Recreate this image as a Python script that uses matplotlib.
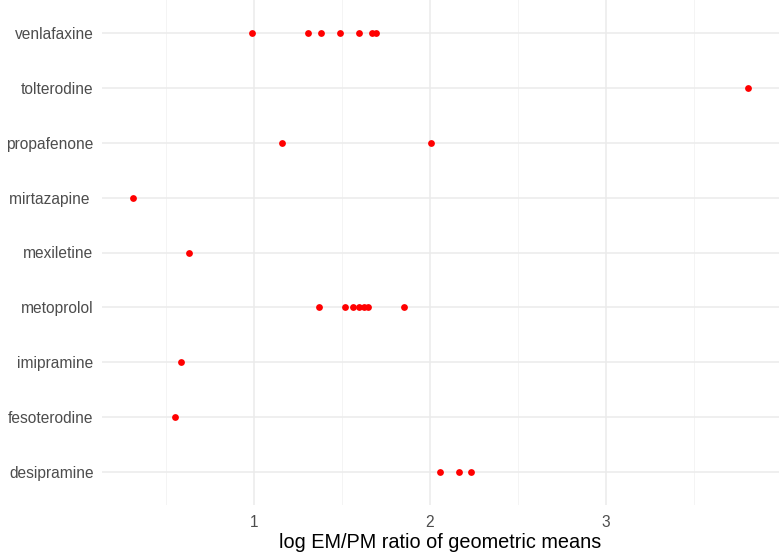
import matplotlib
matplotlib.use('Agg')
import matplotlib.pyplot as plt
import numpy as np

# drugs bottom to top
drugs = ['desipramine', 'fesoterodine', 'imipramine', 'metoprolol', 'mexiletine',
         'mirtazapine ', 'propafenone', 'tolterodine', 'venlafaxine']

ratios = {
    'desipramine': [2.059, 2.164, 2.236],
    'fesoterodine': [0.55],
    'imipramine': [0.584],
    'metoprolol': [1.367, 1.516, 1.56, 1.596, 1.625, 1.647, 1.85],
    'mexiletine': [0.63],
    'mirtazapine ': [0.311],
    'propafenone': [1.16, 2.008],
    'tolterodine': [3.809],
    'venlafaxine': [0.987, 1.307, 1.383, 1.491, 1.596, 1.673, 1.695],
}

plt.rcParams['font.family'] = ['Liberation Sans', 'DejaVu Sans']

fig = plt.figure(figsize=(7.79, 5.52), dpi=100)
ax = fig.add_axes([102 / 779, 47 / 552, 677 / 779, 505 / 552])

for i, d in enumerate(drugs):
    xs = ratios[d]
    ax.scatter(xs, [i + 1] * len(xs), s=24, color='red', zorder=3, linewidths=0)

allx = np.concatenate([ratios[d] for d in drugs])
lo, hi = allx.min(), allx.max()
pad = (hi - lo) * 0.05
ax.set_xlim(lo - pad, hi + pad)
ax.set_ylim(0.4, len(drugs) + 0.6)

ax.set_xticks([1, 2, 3])
ax.set_xticks([0.5, 1.5, 2.5, 3.5], minor=True)
ax.set_yticks(range(1, len(drugs) + 1))
ax.set_yticklabels(drugs)

ax.grid(which='major', color='#EBEBEB', linewidth=1.1)
ax.grid(which='minor', axis='x', color='#F2F2F2', linewidth=0.6)
ax.set_axisbelow(True)
for s in ax.spines.values():
    s.set_visible(False)
ax.tick_params(which='both', length=0, labelsize=11.2, labelcolor='#4D4D4D')
ax.tick_params(axis='x', pad=7)
ax.tick_params(axis='y', pad=6)

ax.set_xlabel('log EM/PM ratio of geometric means', fontsize=14.3, labelpad=2)

fig.savefig('out.png', dpi=100)
